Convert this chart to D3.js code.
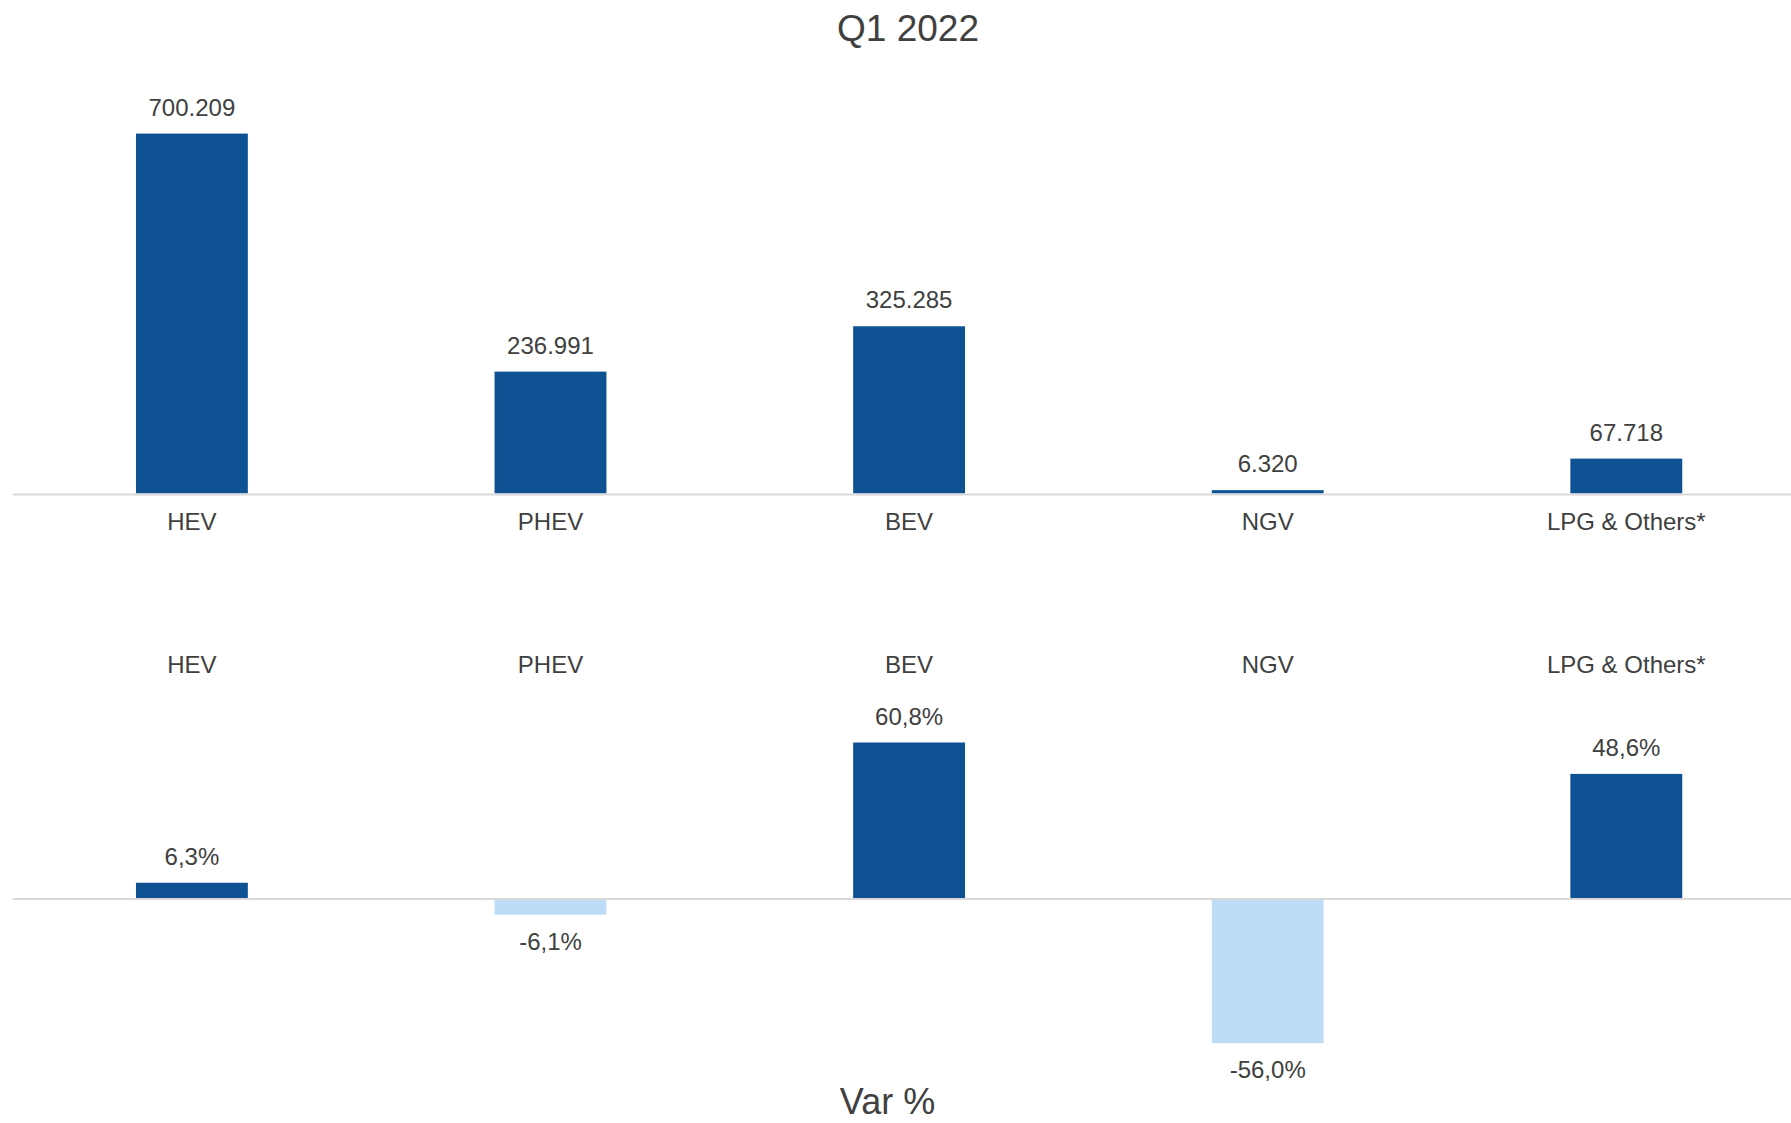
<!DOCTYPE html>
<html lang="en">
<head>
<meta charset="utf-8">
<title>Q1 2022</title>
<script src="https://d3js.org/d3.v7.min.js"></script>
<style>
    body { margin: 0; background: #fff; }
    svg text { font-family: "Liberation Sans", Arial, sans-serif; fill: #404040; }
    .base line { stroke: #d9d9d9; stroke-width: 2; }
</style>
</head>
<body>
<div id="divChart"></div>
<script>

// data
const categories = ["HEV", "PHEV", "BEV", "NGV", "LPG & Others*"];
const units = [700209, 236991, 325285, 6320, 67718];
const unitLabels = ["700.209", "236.991", "325.285", "6.320", "67.718"];
const varPct = [6.3, -6.1, 60.8, -56.0, 48.6];
const varLabels = ["6,3%", "-6,1%", "60,8%", "-56,0%", "48,6%"];

const width = 1791, height = 1123;
const darkBlue = "#0e5294", lightBlue = "#bddcf8";

const svg = d3.select("#divChart")
    .append("svg")
        .attr("width", width)
        .attr("height", height);

// band scale runs a bit past the right edge, like the original
const x = d3.scaleBand()
    .domain(categories)
    .range([12.6, 1805.6])
    .paddingInner(0.688)
    .paddingOuter(0.344);

// top panel: units
const base1 = 493.4;
const y1 = d3.scaleLinear()
    .domain([0, 700209])
    .range([base1, 133.6]);

svg.append("text")
    .attr("x", 908)
    .attr("y", 41)
    .attr("text-anchor", "middle")
    .attr("font-size", "37px")
    .text("Q1 2022");

svg.selectAll("rect.units")
    .data(units)
    .join("rect")
        .attr("class", "units")
        .attr("x", (d, i) => x(categories[i]))
        .attr("width", x.bandwidth())
        .attr("y", d => y1(d))
        .attr("height", d => Math.max(2.5, base1 - y1(d)))
        .attr("fill", darkBlue);

svg.append("g").attr("class", "base")
    .append("line")
        .attr("x1", 12.6).attr("x2", width)
        .attr("y1", base1 + 1).attr("y2", base1 + 1);

svg.selectAll("text.ulab")
    .data(units)
    .join("text")
        .attr("class", "ulab")
        .attr("x", (d, i) => x(categories[i]) + x.bandwidth() / 2)
        .attr("y", d => Math.min(y1(d), base1 - 2.5) - 18)
        .attr("text-anchor", "middle")
        .attr("font-size", "24px")
        .text((d, i) => unitLabels[i]);

svg.selectAll("text.cat1")
    .data(categories)
    .join("text")
        .attr("class", "cat1")
        .attr("x", d => x(d) + x.bandwidth() / 2)
        .attr("y", 529.5)
        .attr("text-anchor", "middle")
        .attr("font-size", "24px")
        .text(d => d);

// bottom panel: var %
const base2 = 899;
const y2 = d3.scaleLinear()
    .domain([-56, 60.8])
    .range([base2 + 144.1, base2 - 156.5]);

svg.selectAll("text.cat2")
    .data(categories)
    .join("text")
        .attr("class", "cat2")
        .attr("x", d => x(d) + x.bandwidth() / 2)
        .attr("y", 672.5)
        .attr("text-anchor", "middle")
        .attr("font-size", "24px")
        .text(d => d);

svg.selectAll("rect.var")
    .data(varPct)
    .join("rect")
        .attr("class", "var")
        .attr("x", (d, i) => x(categories[i]))
        .attr("width", x.bandwidth())
        .attr("y", d => Math.min(y2(d), y2(0)))
        .attr("height", d => Math.abs(y2(d) - y2(0)))
        .attr("fill", d => d < 0 ? lightBlue : darkBlue);

svg.append("g").attr("class", "base")
    .append("line")
        .attr("x1", 12.6).attr("x2", width)
        .attr("y1", base2).attr("y2", base2);

svg.selectAll("text.vlab")
    .data(varPct)
    .join("text")
        .attr("class", "vlab")
        .attr("x", (d, i) => x(categories[i]) + x.bandwidth() / 2)
        .attr("y", d => d < 0 ? y2(d) + 35 : y2(d) - 18)
        .attr("text-anchor", "middle")
        .attr("font-size", "24px")
        .text((d, i) => varLabels[i]);

svg.append("text")
    .attr("x", 887.5)
    .attr("y", 1114)
    .attr("text-anchor", "middle")
    .attr("font-size", "36px")
    .text("Var %");

</script>
</body>
</html>
